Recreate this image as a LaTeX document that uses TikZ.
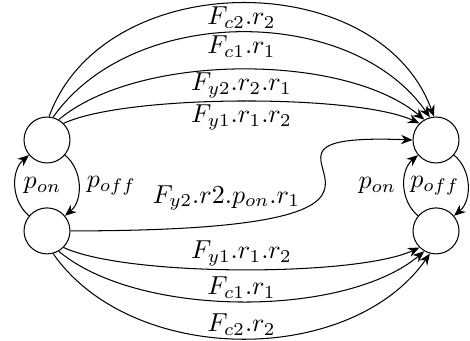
\documentclass[tikz,border=0pt]{standalone}
\usepackage{amsmath}
\usepackage{tikz}
\usetikzlibrary{arrows.meta,positioning}
\tikzset{
  statenode/.style={circle, draw=black, line width=0.4pt, minimum size=17.7pt, inner sep=0pt},
  flow/.style={-{Stealth[length=4.4pt,width=3.6pt]}, draw=black, line width=0.4pt},
  lbl/.style={inner sep=1pt},
  plbl/.style={inner sep=3pt}
}
\begin{document}
\begin{tikzpicture}[x=0.385pt, y=0.385pt]
 \useasboundingbox (0,0) rectangle (470,341);
 \node[statenode] (onA) at (47,201) {};
 \node[statenode, below=16.9pt of onA] (offA) {};
 \node[statenode] (onB) at (436,201) {};
 \node[statenode, below=16.9pt of onB] (offB) {};

 \draw[flow] (onA.85) to[out=70, in=110, looseness=1.07] node[lbl, below] {$F_{c2}.r_2$} (onB.95);
 \draw[flow] (onA.75) to[out=55, in=125, looseness=0.94] node[lbl, below] {$F_{c1}.r_1$} (onB.105);
 \draw[flow] (onA.60) to[out=40, in=140, looseness=0.73] node[lbl, below] {$F_{y2}.r_2.r_1$} (onB.120);
 \draw[flow] (onA.45) to[out=25, in=155, looseness=0.5] node[lbl, below] {$F_{y1}.r_1.r_2$} (onB.135);

 \draw[flow] (offA.east) .. controls +(456,0) and +(-230,9) .. node[pos=0.15, above=2pt] {$F_{y2}.r2.p_{on}.r_1$} (onB.west);

 \draw[flow] (offA.-45) to[out=-25, in=-155, looseness=0.5] node[lbl, above] {$F_{y1}.r_1.r_2$} (offB.-135);
 \draw[flow] (offA.-60) to[out=-40, in=-140, looseness=0.73] node[lbl, above] {$F_{c1}.r_1$} (offB.-120);
 \draw[flow] (offA.-75) to[out=-55, in=-125, looseness=0.94] node[lbl, above] {$F_{c2}.r_2$} (offB.-105);

 \draw[flow] (offA) to[bend left=50] node[plbl, right] {$p_{on}$} (onA);
 \draw[flow] (onA) to[bend left=50] node[plbl, right] {$p_{off}$} (offA);
 \draw[flow] (offB) to[bend left=50] node[plbl, left] {$p_{on}$} (onB);
 \draw[flow] (onB) to[bend left=50] node[plbl, left] {$p_{off}$} (offB);
\end{tikzpicture}
\end{document}
